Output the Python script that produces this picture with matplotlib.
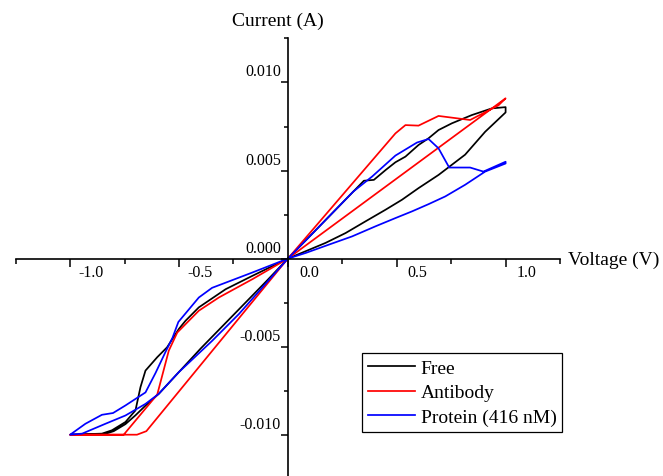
import numpy as np
import matplotlib
matplotlib.use("Agg")
import matplotlib.pyplot as plt
from matplotlib.ticker import MultipleLocator, FormatStrFormatter
from matplotlib.transforms import ScaledTranslation

plt.rcParams['font.family'] = ['Liberation Serif', 'DejaVu Serif']
plt.rcParams['axes.unicode_minus'] = False

# I-V sweeps: 0 -> +1 V -> 0 -> -1 V -> 0
free_v = [0, 0.1, 0.2, 0.349, 0.395, 0.45, 0.494, 0.54, 0.6, 0.646, 0.692, 0.753, 0.845, 0.937, 1.0,
          1.0, 0.906, 0.814, 0.692, 0.6, 0.524, 0.448, 0.356, 0.265, 0.173, 0.082, 0,
          -0.1, -0.25, -0.4, -0.501, -0.593, -0.654, -0.7, -0.746, -0.8, -0.85, -1.0,
          -0.854, -0.808, -0.746, -0.7, -0.677, -0.654, -0.6, -0.555, -0.501, -0.47, -0.409, -0.286, -0.163, 0]
free_i = [0, 0.00126, 0.00253, 0.00442, 0.00447, 0.00504, 0.00547, 0.00579, 0.00645, 0.00683, 0.0073, 0.00768, 0.00815, 0.00853, 0.0086,
          0.0083, 0.0072, 0.0059, 0.00475, 0.004, 0.00334, 0.00277, 0.00211, 0.00145, 0.00089, 0.00042, 0,
          -0.0013, -0.0032, -0.0051, -0.00645, -0.00768, -0.00835, -0.0089, -0.0094, -0.0098, -0.01, -0.01,
          -0.00994, -0.00975, -0.00928, -0.00862, -0.0073, -0.00636, -0.0056, -0.00504, -0.004, -0.00353, -0.00277, -0.00174, -0.00098, 0]

antibody_v = [0, 0.494, 0.54, 0.6, 0.692, 0.837, 0.967, 1.0,
              0,
              -0.65, -0.693, -1.0,
              -0.754, -0.6, -0.547, -0.508, -0.409, -0.317, -0.163, 0]
antibody_i = [0, 0.00711, 0.00758, 0.00755, 0.0081, 0.00787, 0.0087, 0.0091,
              0,
              -0.0098, -0.01, -0.01,
              -0.01, -0.00772, -0.00523, -0.0042, -0.00296, -0.00221, -0.00117, 0]

protein_v = [0, 0.1, 0.2, 0.3, 0.387, 0.494, 0.593, 0.646, 0.692, 0.741, 0.837, 0.898, 1.0,
             1.0, 0.906, 0.814, 0.723, 0.646, 0.570, 0.494, 0.402, 0.295, 0.188, 0.082, 0,
             -0.225, -0.347, -0.501, -0.593, -0.654, -0.746, -0.838, -0.945, -1.0,
             -0.93, -0.854, -0.803, -0.746, -0.654, -0.608, -0.562, -0.53, -0.503, -0.409, -0.348, -0.163, 0]
protein_i = [0, 0.00126, 0.00253, 0.0038, 0.00466, 0.00585, 0.00659, 0.00679, 0.00626, 0.00517, 0.00517, 0.00494, 0.0055,
             0.0054, 0.00494, 0.00419, 0.00353, 0.00309, 0.00268, 0.0023, 0.00183, 0.00126, 0.00079, 0.00032, 0,
             -0.00315, -0.00466, -0.00645, -0.00768, -0.00825, -0.00891, -0.00938, -0.00994, -0.01,
             -0.00938, -0.00887, -0.00877, -0.00834, -0.0076, -0.0065, -0.0053, -0.0045, -0.0036, -0.00221, -0.00166, -0.00079, 0]

fig = plt.figure(figsize=(6.63, 4.77), dpi=100)
ax = fig.add_axes([0.0237, -0.0057, 0.821, 0.923])

ax.plot(free_v, free_i, color='black', lw=1.25, label='Free')
ax.plot(antibody_v, antibody_i, color='#ff0000', lw=1.25, label='Antibody')
ax.plot(protein_v, protein_i, color='#0000ff', lw=1.25, label='Protein (416 nM)')

ax.set_xlim(-1.25, 1.25)
ax.set_ylim(-0.0125, 0.0125)

ax.spines['left'].set_position(('data', 0))
ax.spines['bottom'].set_position(('data', 0))
ax.spines['top'].set_visible(False)
ax.spines['right'].set_visible(False)
for s in ['left', 'bottom']:
    ax.spines[s].set_linewidth(1.2)

ax.xaxis.set_major_locator(MultipleLocator(0.5))
ax.xaxis.set_minor_locator(MultipleLocator(0.25))
ax.yaxis.set_major_locator(MultipleLocator(0.005))
ax.yaxis.set_minor_locator(MultipleLocator(0.0025))
ax.xaxis.set_major_formatter(FormatStrFormatter('%.1f'))
ax.yaxis.set_major_formatter(FormatStrFormatter('%.3f'))

ax.tick_params(axis='x', which='major', direction='out', length=5.8, width=1.1, pad=0, labelsize=11.5)
ax.tick_params(axis='x', which='minor', direction='out', length=3.6, width=1.1)
ax.tick_params(axis='y', which='major', direction='out', length=5.0, width=1.1, pad=0, labelsize=11.5)
ax.tick_params(axis='y', which='minor', direction='out', length=3.0, width=1.1)

# Origin-style offsets of the tick labels
for lab in ax.get_xticklabels():
    lab.set_transform(lab.get_transform() + ScaledTranslation(0.21, 0.027, fig.dpi_scale_trans))
for lab in ax.get_yticklabels():
    lab.set_transform(lab.get_transform() + ScaledTranslation(0, 0.13, fig.dpi_scale_trans))

fig.text(0.419, 0.9545, 'Current (A)', fontsize=14, ha='center', va='center')
fig.text(0.857, 0.4535, 'Voltage (V)', fontsize=14, ha='left', va='center')

leg = ax.legend(loc='upper left', bbox_to_anchor=(0.5456, 0.2572), bbox_transform=fig.transFigure,
                fontsize=14, frameon=True, fancybox=False, shadow=False, borderaxespad=0,
                handlelength=2.42, handletextpad=0.31, labelspacing=0.36, borderpad=0.3)
leg.get_frame().set_edgecolor('black')
leg.get_frame().set_linewidth(0.9)
leg.get_frame().set_alpha(1)

fig.savefig('out.png', dpi=100)
